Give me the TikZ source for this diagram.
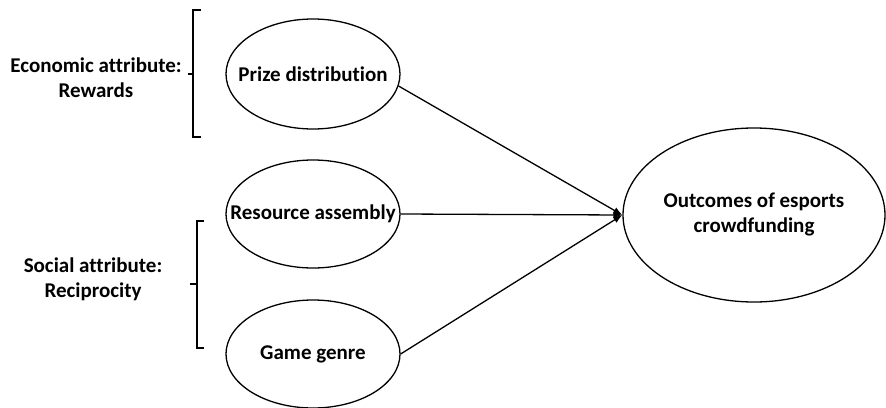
\documentclass[tikz,border=0pt]{standalone}
\usepackage{fontspec}
\setmainfont[Ligatures=NoCommon]{Carlito}
\usetikzlibrary{shapes.geometric,arrows.meta}
\begin{document}
\begin{tikzpicture}[x=1pt,y=-1pt,
  oval/.style={draw,ellipse,line width=1.3pt,inner sep=0pt},
  lab/.style={font=\bfseries\fontsize{21}{25}\selectfont,align=center,inner sep=0pt},
  conn/.style={line width=1.3pt,-{Latex[length=9pt,width=7pt]}},
  brk/.style={line width=1.3pt}]
\useasboundingbox (0,0) rectangle (886,407);
\node[oval,minimum width=174pt,minimum height=110pt] (prize) at (313,74) {};
\node[oval,minimum width=174pt,minimum height=108pt] (res) at (313,214) {};
\node[oval,minimum width=174pt,minimum height=108pt] (game) at (313,354) {};
\node[oval,minimum width=262pt,minimum height=174pt] (out) at (754,215) {};
\node[lab] (prizet) at (prize.center) {Prize distribution};
\node[lab] (rest) at (res.center) {Resource assembly};
\node[lab] (gamet) at (game.center) {Game genre};
\node[lab] (outt) at (754,214.5) {Outcomes of esports\\crowdfunding};
\node[lab] (econ) at (96,78) {Economic attribute:\\Rewards};
\node[lab] (soc) at (93,279.5) {Social attribute:\\Reciprocity};
\draw[conn] (prize.-8) -- (out.west);
\draw[conn] (res.east) -- (out.west);
\draw[conn] (game.east) -- (out.west);
\coordinate (b1t) at (201,10);
\coordinate (b1b) at (201,137);
\coordinate (b1m) at (188,74);
\draw[brk] (b1t) -- (193,10) -- (193,137) -- (b1b);
\draw[brk] (193,74) -- (b1m);
\coordinate (b2t) at (204,221);
\coordinate (b2b) at (204,348);
\coordinate (b2m) at (190,284);
\draw[brk] (b2t) -- (197,221) -- (197,348) -- (b2b);
\draw[brk] (197,284) -- (b2m);
\end{tikzpicture}
\end{document}
